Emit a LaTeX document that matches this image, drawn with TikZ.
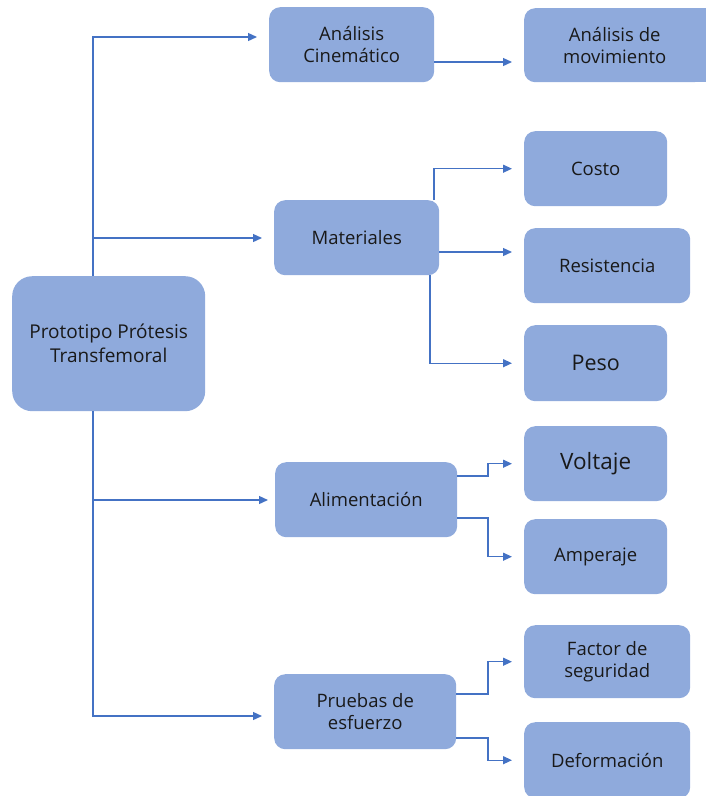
\documentclass[tikz,border=0pt]{standalone}
\usepackage{fontspec}
\setmainfont{Open Sans}
\usetikzlibrary{arrows.meta}
\definecolor{boxfill}{HTML}{8FAADC}
\definecolor{linecol}{HTML}{4472C4}
\begin{document}
\begin{tikzpicture}[x=1pt,y=-1pt,
  box/.style={fill=boxfill, rounded corners=11pt, anchor=north west, align=center,
    inner sep=2pt, font=\fontsize{18.5}{22}\selectfont, text=black!90},
  conn/.style={draw=linecol, line width=1.3pt, -{Triangle[length=9pt,width=8pt]}, shorten >=12pt},
]
\useasboundingbox (0,0) rectangle (705,796);
% nodes
\node[box, rounded corners=20pt, minimum width=193pt, minimum height=135pt, font=\fontsize{19}{24}\selectfont] (root) at (12,276) {Prototipo Prótesis\\Transfemoral};
\node[box, minimum width=165pt, minimum height=75pt] (cin) at (269,7) {Análisis\\Cinemático};
\fill[boxfill] (620,8) rectangle (720,82);
\node[box, minimum width=181pt, minimum height=74pt] (mov) at (524,8) {Análisis de\\movimiento};
\node[box, minimum width=165pt, minimum height=75pt] (mat) at (274,200) {Materiales};
\node[box, minimum width=143pt, minimum height=75pt] (cos) at (524,131) {Costo};
\node[box, minimum width=166pt, minimum height=75pt] (res) at (524,228) {Resistencia};
\node[box, minimum width=143pt, minimum height=76pt, font=\fontsize{21.5}{25}\selectfont] (pes) at (524,325) {Peso};
\node[box, minimum width=143pt, minimum height=75pt, font=\fontsize{22.5}{26}\selectfont] (vol) at (524,426) {Voltaje};
\node[box, minimum width=182pt, minimum height=75pt] (ali) at (275,462) {Alimentación};
\node[box, minimum width=143pt, minimum height=75pt] (amp) at (524,519) {Amperaje};
\node[box, minimum width=182pt, minimum height=75pt] (pru) at (274,674) {Pruebas de\\esfuerzo};
\node[box, minimum width=166pt, minimum height=73pt] (fac) at (524,625) {Factor de\\seguridad};
\node[box, minimum width=166pt, minimum height=76pt] (def) at (524,722) {Deformación};
% trunk coordinates
\coordinate (tA) at (93,37);
\coordinate (tM) at (93,238);
\coordinate (tL) at (93,500);
\coordinate (tP) at (93,716);
% root to level 1
\draw[conn] (root.north -| tA) -- (tA) -- (tA -| cin.west);
\draw[conn] (tM) -- (tM -| mat.west);
\draw[conn, shorten >=7pt] (root.south -| tL) -- (tL) -- (tL -| ali.west);
\draw[conn] (tL) -- (tP) -- (tP -| pru.west);
% level 1 to level 2
\coordinate (y62) at (0,62);
\draw[conn] (cin.east |- y62) -- (mov.west |- y62);
\coordinate (mx1) at (434,0);
\coordinate (mx2) at (430,0);
\coordinate (y252) at (0,252);
\draw[conn] (mat.north -| mx1) -- (mx1 |- cos.west) -- (cos.west);
\draw[conn] (mat.east |- y252) -- (res.west |- y252);
\draw[conn] (mat.south -| mx2) -- (mx2 |- pes.west) -- (pes.west);
\coordinate (ax) at (488,0);
\coordinate (y476) at (0,476);
\coordinate (y518) at (0,518);
\coordinate (y694) at (0,694);
\coordinate (y738) at (0,738);
\draw[conn] (ali.east |- y476) -- (ax |- y476) -- (ax |- vol.west) -- (vol.west);
\draw[conn] (ali.east |- y518) -- (ax |- y518) -- (ax |- amp.west) -- (amp.west);
\draw[conn] (pru.east |- y694) -- (ax |- y694) -- (ax |- fac.west) -- (fac.west);
\draw[conn] (pru.east |- y738) -- (ax |- y738) -- (ax |- def.west) -- (def.west);
\end{tikzpicture}
\end{document}
